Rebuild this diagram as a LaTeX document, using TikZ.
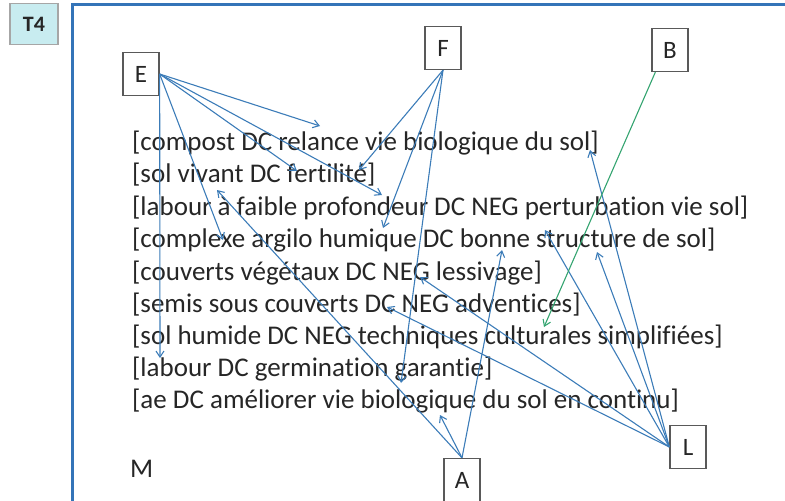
\documentclass[tikz,border=0pt]{standalone}
\usepackage{fontspec}
\setmainfont{Carlito}[Ligatures=NoCommon]
\usepackage{tikz}
\usetikzlibrary{arrows.meta, positioning}
\definecolor{linkblue}{RGB}{60, 124, 184}
\definecolor{linkgreen}{RGB}{52, 164, 112}
\definecolor{frameblue}{RGB}{52, 116, 184}
\definecolor{tagcyan}{RGB}{200, 236, 240}
\definecolor{inkgray}{RGB}{38, 38, 38}
\tikzset{
  letter/.style={
    draw=black!65,
    line width=1.3pt,
    fill=white,
    minimum width=36pt,
    minimum height=43pt,
    inner sep=0pt,
    font=\fontsize{25}{28}\selectfont\color{inkgray}
  },
  claim/.style={
    anchor=base west,
    inner sep=0pt,
    font=\fontsize{27}{30}\selectfont\color{inkgray}
  },
  tag/.style={
    draw=black!35,
    line width=1.2pt,
    fill=tagcyan,
    minimum width=48pt,
    minimum height=41pt,
    font=\fontsize{22}{24}\selectfont\bfseries\color{black!85}
  },
  every edge/.style={
    draw=linkblue,
    line width=1.1pt,
    -{Straight Barb[length=6pt, width=8pt]}
  }
}

\begin{document}
\begin{tikzpicture}[x=1pt, y=-1pt]
  \useasboundingbox (0,0) rectangle (785,501);
  \clip (0,0) rectangle (785,501);
  \node[tag] (t4) at (34,24) {T4};
  \draw[frameblue, line width=3pt] (72,4) rectangle (820,540);

  % statements
  \node[claim] (c1) at (132,150) {[compost DC relance vie biologique du sol]};
  \node[claim] (c2) at (132,182) {[sol vivant DC fertilité]};
  \node[claim] (c3) at (132,215) {[labour à faible profondeur DC NEG perturbation vie sol]};
  \node[claim] (c4) at (132,247) {[complexe argilo humique DC bonne structure de sol]};
  \node[claim] (c5) at (132,280) {[couverts végétaux DC NEG lessivage]};
  \node[claim] (c6) at (132,312) {[semis sous couverts DC NEG adventices]};
  \node[claim] (c7) at (132,344) {[sol humide DC NEG techniques culturales simplifiées]};
  \node[claim] (c8) at (132,376) {[labour DC germination garantie]};
  \node[claim] (c9) at (132,408) {[ae DC améliorer vie biologique du sol en continu]};
  \node[claim] (m) at (130,477) {M};

  % actors
  \node[letter] (E) at (141,74) {E};
  \node[letter] (F) at (443,48) {F};
  \node[letter] (B) at (670,50) {B};
  \node[letter] (L) at (688,447) {L};
  \node[letter] (A) at (462,480) {A};

  % arrow ends
  \coordinate (e1) at (320,126);
  \coordinate (e2) at (297,171);
  \coordinate (e3) at (382,195);
  \coordinate (e4) at (223,240);
  \coordinate (e5) at (160,358);
  \coordinate (f1) at (359,170);
  \coordinate (f2) at (383,228);
  \coordinate (f3) at (401,383);
  \coordinate (a1) at (217,190);
  \coordinate (a2) at (440,415);
  \coordinate (a3) at (502,250);
  \coordinate (l1) at (590,150);
  \coordinate (l2) at (597,252);
  \coordinate (l3) at (545,230);
  \coordinate (l4) at (420,277);
  \coordinate (l5) at (387,307);
  \coordinate (b0) at ([xshift=4pt]B.south west);
  \coordinate (b1) at (544,327);

  \path (E.east) edge (e1)
        (E.east) edge (e2)
        (E.east) edge (e3)
        (E.east) edge (e4)
        (E.east) edge (e5)
        (F.south) edge (f1)
        (F.south) edge (f2)
        (F.south) edge (f3)
        (A.north) edge (a1)
        (A.north) edge (a2)
        (A.north) edge (a3)
        (L.west) edge (l1)
        (L.west) edge (l2)
        (L.west) edge (l3)
        (L.west) edge (l4)
        (L.west) edge (l5)
        (b0) edge[draw=linkgreen] (b1);
\end{tikzpicture}
\end{document}
